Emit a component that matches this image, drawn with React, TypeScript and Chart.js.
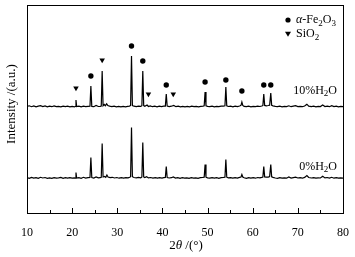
import React, { useEffect, useRef } from "react";
import { Chart, registerables } from "chart.js";

Chart.register(...registerables);

// ---- data (2θ in degrees, intensity in a.u.) ----
const TWO_THETA_MIN = 10;
const TWO_THETA_MAX = 80;
const INTENSITY_MAX = 208;
const OFFSET_10 = 106; // vertical offset of the 10%H2O pattern
const OFFSET_0 = 34.5; // vertical offset of the 0%H2O pattern

const pattern10: [number, number][] = [
  [10,0.5],[10.5,1.2],[11,0.3],[11.5,1],[12,0.2],[12.5,0.8],[13,1.3],[13.5,0.4],[14,1],[14.5,0.2],
  [15,0.9],[15.5,0.3],[16,1.1],[16.5,0.4],[17,0.7],[17.5,0.1],[18,0.9],[18.5,0.3],[19,0.8],[19.5,0.2],
  [20,0.7],[20.5,0.2],[20.7,0.5],[20.85,7],[21.0,0.4],[21.5,0.8],[22,0.2],[22.5,0.9],[23,0.3],[23.5,0.6],
  [23.95,0.8],[24.15,21],[24.35,0.6],[24.8,0.3],[25.3,1.5],[25.8,0.5],[26.2,0.6],[26.45,1],[26.65,36],[26.85,1.2],
  [27.1,2.5],[27.35,1.3],[27.65,3.2],[27.9,1.5],[28.3,0.9],[28.8,0.4],[29.3,0.8],[29.8,0.2],[30.3,0.7],[30.8,0.1],
  [31.3,0.6],[31.8,0.2],[32.3,0.7],[32.7,0.9],[32.95,1.5],[33.15,51],[33.35,1.5],[33.7,0.8],[34.2,0.4],[34.7,0.9],
  [35.2,0.6],[35.45,1.3],[35.65,36],[35.85,1.4],[36.1,0.7],[36.6,2],[36.9,0.5],[37.3,1],[37.8,0.3],[38.3,0.8],
  [38.8,0.2],[39.3,0.9],[39.8,0.4],[40.3,0.8],[40.65,0.9],[40.85,13],[41.05,0.9],[41.5,0.4],[42,0.8],[42.5,1.5],
  [43,0.3],[43.5,0.8],[44,0.2],[44.5,0.7],[45,0.1],[45.5,0.6],[46,0.2],[46.5,0.8],[47,0.3],[47.5,0.7],
  [48,0.1],[48.5,0.6],[49,0.9],[49.25,1.2],[49.45,15],[49.65,1.2],[50,0.6],[50.5,0.3],[51,0.8],[51.5,0.2],
  [52,0.7],[52.5,0.3],[53,0.8],[53.5,0.9],[53.85,1.2],[54.05,20],[54.25,1.2],[54.6,0.5],[55.1,0.8],[55.6,0.2],
  [56.1,0.9],[56.6,0.4],[57.1,1],[57.4,1.6],[57.6,5],[57.8,1.6],[58.1,0.6],[58.6,0.3],[59.1,0.8],[59.6,0.2],
  [60.1,0.7],[60.6,0.4],[61.1,0.9],[61.6,0.5],[62.0,1],[62.25,1.4],[62.45,13],[62.65,1.6],[63.0,1.2],[63.45,1.5],
  [63.75,1.8],[64.0,14],[64.2,1.6],[64.5,1.2],[65,0.6],[65.5,0.3],[66,0.8],[66.5,0.2],[67,0.7],[67.5,0.4],
  [68,1.2],[68.5,0.3],[69,0.8],[69.5,1.3],[70,0.4],[70.5,0.7],[71,0.3],[71.5,1],[72,2.8],[72.4,0.9],
  [73,0.4],[73.5,0.8],[74,0.2],[74.5,0.7],[75,0.4],[75.5,2],[76,0.5],[76.5,0.9],[77,0.3],[77.5,1.3],
  [78,0.4],[78.5,0.8],[79,0.2],[79.5,0.6],[80,0.3],
];

const pattern0: [number, number][] = [
  [10,0.8],[10.5,0.2],[11,1.1],[11.5,0.4],[12,0.9],[12.5,0.1],[13,1.2],[13.5,0.5],[14,1.0],[14.5,0.2],
  [15,0.7],[15.5,0.1],[16,0.9],[16.5,0.3],[17,0.6],[17.5,1.1],[18,0.2],[18.5,0.8],[19,0.3],[19.5,0.9],
  [20,0.4],[20.5,0.6],[20.7,0.4],[20.85,6],[21.0,0.5],[21.5,0.9],[22,0.2],[22.5,1.2],[23,0.4],[23.5,0.8],
  [23.95,1.0],[24.15,21],[24.35,0.9],[24.8,0.4],[25.3,1.6],[25.8,0.6],[26.2,0.8],[26.45,1.2],[26.65,35],[26.85,1.5],
  [27.2,2],[27.45,1.2],[27.7,3.5],[27.95,1.4],[28.4,0.9],[28.9,1.2],[29.4,0.5],[29.9,1],[30.4,0.3],[30.9,0.8],
  [31.4,0.3],[31.9,0.9],[32.4,0.6],[32.75,1.2],[32.95,1.8],[33.15,51],[33.35,1.8],[33.7,1],[34.2,0.6],[34.7,1.1],
  [35.2,0.7],[35.45,1.5],[35.65,36],[35.85,1.6],[36.1,0.9],[36.5,1.8],[36.9,0.6],[37.4,1],[37.9,0.4],[38.4,0.9],
  [38.9,0.3],[39.4,0.8],[39.9,0.4],[40.3,0.9],[40.65,1.1],[40.85,12],[41.05,1],[41.5,0.5],[42,0.8],[42.4,1.6],
  [42.9,0.4],[43.4,0.9],[43.9,0.2],[44.4,0.8],[44.9,0.3],[45.4,0.7],[45.9,0.2],[46.4,0.9],[46.9,0.3],[47.4,0.7],
  [47.9,0.2],[48.4,0.8],[48.9,1],[49.25,1.3],[49.45,14],[49.65,1.3],[50,0.7],[50.5,0.3],[51,0.9],[51.5,0.3],
  [52,0.8],[52.5,0.2],[53,0.9],[53.5,1],[53.85,1.3],[54.05,19],[54.25,1.3],[54.6,0.6],[55.1,0.9],[55.6,0.3],
  [56.1,0.8],[56.6,0.4],[57.1,1.1],[57.4,1.5],[57.6,4],[57.8,1.5],[58.1,0.7],[58.6,0.2],[59.1,0.9],[59.6,0.3],
  [60.1,0.8],[60.6,0.3],[61.1,1],[61.6,0.6],[62.0,1.1],[62.25,1.5],[62.45,12],[62.65,1.6],[63.0,1.3],[63.45,1.4],
  [63.75,1.9],[64.0,14],[64.2,1.7],[64.5,1.1],[65,0.5],[65.5,0.2],[66,0.9],[66.5,0.3],[67,0.7],[67.5,0.3],
  [68,1.5],[68.5,0.4],[69,0.9],[69.5,1.4],[70,0.5],[70.5,0.8],[71,0.3],[71.5,1.1],[72,3],[72.4,1],
  [73,0.5],[73.5,0.9],[74,0.3],[74.5,0.6],[75,0.5],[75.5,2.2],[76,0.6],[76.5,1],[77,0.4],[77.5,1.2],
  [78,0.3],[78.5,0.9],[79,0.3],[79.5,0.7],[80,0.4],
];

// phase markers above the 10%H2O pattern: [2θ, intensity]
const fe2o3Markers: [number, number][] = [
  [24.15,137],[33.15,167],[35.65,152],[40.85,128],[49.45,131],[54.05,133],[57.6,122],[62.45,128],[64.0,128],
];
const sio2Markers: [number, number][] = [
  [20.85,125],[26.65,153],[36.9,119],[42.4,119],
];

const X_TICKS = [10, 20, 30, 40, 50, 60, 70, 80];
const LABEL_10 = "10%H2O";
const LABEL_0 = "0%H2O";

const FONT = "'Liberation Serif', 'Times New Roman', serif";

type Seg = { t: string; italic?: boolean; sub?: boolean };

function drawRich(ctx: CanvasRenderingContext2D, segs: Seg[], x: number, y: number, size: number, align: "left" | "right" | "center") {
  const fontOf = (s: Seg) => `${s.italic ? "italic " : ""}${s.sub ? Math.round(size * 0.72) : size}px ${FONT}`;
  let w = 0;
  for (const s of segs) { ctx.font = fontOf(s); w += ctx.measureText(s.t).width; }
  let cx = align === "right" ? x - w : align === "center" ? x - w / 2 : x;
  ctx.textBaseline = "middle";
  ctx.textAlign = "left";
  for (const s of segs) {
    ctx.font = fontOf(s);
    ctx.fillText(s.t, cx, y + (s.sub ? size * 0.28 : 0));
    cx += ctx.measureText(s.t).width;
  }
}

const h2oSegs = (label: string): Seg[] => {
  const m = label.match(/^(.*%H)2(O)$/);
  return m ? [{ t: m[1] }, { t: "2", sub: true }, { t: m[2] }] : [{ t: label }];
};

const decorPlugin = {
  id: "decor",
  afterDraw(chart: any) {
    const { ctx, chartArea: a, scales } = chart;
    const xs = scales.x, ys = scales.y;
    ctx.save();
    ctx.fillStyle = "#000";
    ctx.strokeStyle = "#000";
    ctx.lineWidth = 1;
    // frame
    ctx.strokeRect(Math.round(a.left) + 0.5, Math.round(a.top) + 0.5, Math.round(a.right - a.left), Math.round(a.bottom - a.top));
    // inward ticks on bottom axis
    for (let v = TWO_THETA_MIN; v <= TWO_THETA_MAX; v += 5) {
      const px = Math.round(xs.getPixelForValue(v)) + 0.5;
      const len = v % 10 === 0 ? 5 : 3;
      ctx.beginPath();
      ctx.moveTo(px, a.bottom);
      ctx.lineTo(px, a.bottom - len);
      ctx.stroke();
    }
    // pattern labels
    drawRich(ctx, h2oSegs(LABEL_10), a.right - 6, ys.getPixelForValue(OFFSET_10 + 16.5), 12, "right");
    drawRich(ctx, h2oSegs(LABEL_0), a.right - 6, ys.getPixelForValue(OFFSET_0 + 12), 12, "right");
    // legend
    const lx = a.right - 55;
    const ly1 = a.top + 15, ly2 = a.top + 29;
    ctx.beginPath();
    ctx.arc(lx, ly1, 2.6, 0, Math.PI * 2);
    ctx.fill();
    ctx.beginPath();
    ctx.moveTo(lx - 3, ly2 - 2.2);
    ctx.lineTo(lx + 3, ly2 - 2.2);
    ctx.lineTo(lx, ly2 + 2.8);
    ctx.closePath();
    ctx.fill();
    drawRich(ctx, [{ t: "α", italic: true }, { t: "-Fe" }, { t: "2", sub: true }, { t: "O" }, { t: "3", sub: true }], lx + 8, ly1, 12, "left");
    drawRich(ctx, [{ t: "SiO" }, { t: "2", sub: true }], lx + 8, ly2, 12, "left");
    // x title
    drawRich(ctx, [{ t: "2" }, { t: "θ", italic: true }, { t: " /(°)" }], (a.left + a.right) / 2 + 1, a.bottom + 33, 13, "center");
    // y title
    ctx.save();
    ctx.translate(12, (a.top + a.bottom) / 2 - 5);
    ctx.rotate(-Math.PI / 2);
    drawRich(ctx, [{ t: "Intensity /(a.u.)" }], 0, 0, 13, "center");
    ctx.restore();
    ctx.restore();
  },
};

export default function App() {
  const ref = useRef<HTMLCanvasElement>(null);
  useEffect(() => {
    if (!ref.current) return;
    Chart.defaults.font.family = FONT;
    Chart.defaults.color = "#000";
    const toPts = (arr: [number, number][], off: number) => arr.map(([x, y]) => ({ x, y: y + off }));
    const chart = new Chart(ref.current, {
      type: "line",
      data: {
        datasets: [
          { label: "10%H2O", data: toPts(pattern10, OFFSET_10), borderColor: "#000", borderWidth: 1.2, pointRadius: 0, tension: 0 },
          { label: "0%H2O", data: toPts(pattern0, OFFSET_0), borderColor: "#000", borderWidth: 1.2, pointRadius: 0, tension: 0 },
          { label: "α-Fe2O3", data: toPts(fe2o3Markers, 0), showLine: false, pointStyle: "circle", pointRadius: 2.7, backgroundColor: "#000", borderWidth: 0 },
          { label: "SiO2", data: toPts(sio2Markers, 0), showLine: false, pointStyle: "triangle", rotation: 180, pointRadius: 3.2, backgroundColor: "#000", borderWidth: 0 },
        ],
      },
      options: {
        animation: false,
        responsive: true,
        maintainAspectRatio: false,
        layout: { padding: { top: 5, right: 12, left: 0, bottom: 0 } },
        plugins: { legend: { display: false }, tooltip: { enabled: false } },
        scales: {
          x: {
            type: "linear",
            min: TWO_THETA_MIN,
            max: TWO_THETA_MAX,
            afterBuildTicks: (s: any) => { s.ticks = X_TICKS.map((v) => ({ value: v })); },
            ticks: { font: { size: 12, family: FONT }, color: "#000", padding: 5, maxRotation: 0 },
            grid: { display: false },
            border: { display: false },
            afterFit: (s: any) => { s.height = 44; },
          },
          y: {
            min: 0,
            max: INTENSITY_MAX,
            ticks: { display: false },
            grid: { display: false },
            border: { display: false },
            afterFit: (s: any) => { s.width = 27; },
          },
        },
      },
      plugins: [decorPlugin],
    });
    return () => chart.destroy();
  }, []);
  return (
    <div style={{ position: "fixed", left: 0, top: 0, width: 355, height: 257, background: "#fff" }}>
      <canvas ref={ref} />
    </div>
  );
}
